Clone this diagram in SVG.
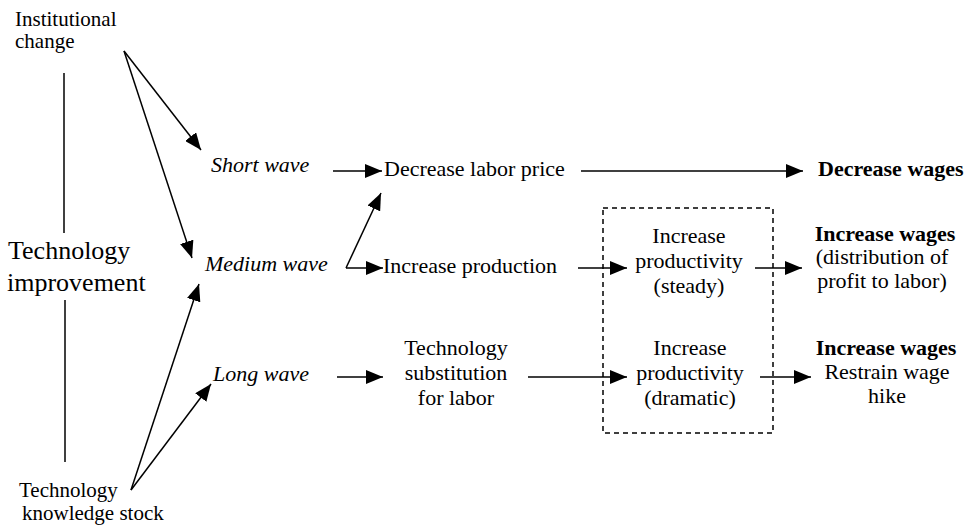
<svg xmlns="http://www.w3.org/2000/svg" width="966" height="528" viewBox="0 0 966 528">
  <style>
    text { font-family: "Liberation Serif", Tinos, "Nimbus Roman", Times, "DejaVu Serif", serif; font-size: 22px; fill: #000; }
    .it { font-style: italic; }
    .b { font-weight: bold; }
    .mid { text-anchor: middle; }
    .big { font-size: 26px; }
    .lab { font-size: 21px; }
    .edge { stroke: #000; stroke-width: 1.5; fill: none; }
    .box { stroke: #000; stroke-width: 1.5; fill: none; stroke-dasharray: 5 4; }
  </style>
  <defs>
    <marker id="arrow" markerUnits="userSpaceOnUse" markerWidth="18" markerHeight="14" refX="17" refY="7" orient="auto">
      <path d="M0,0 L17,7 L0,14 z" fill="#000"/>
    </marker>
  </defs>
  <rect width="966" height="528" fill="#fff"/>

  <!-- left-hand drivers -->
  <g id="institutional-change">
    <text class="lab" x="15" y="26">Institutional</text>
    <text class="lab" x="15" y="48">change</text>
  </g>
  <g id="technology-improvement">
    <text class="big" x="8" y="259">Technology</text>
    <text class="big" x="7" y="291">improvement</text>
  </g>
  <g id="knowledge-stock">
    <text class="lab" x="19" y="497">Technology</text>
    <text class="lab" x="22" y="520">knowledge stock</text>
  </g>

  <!-- wave lengths -->
  <g id="short-wave"><text class="it" x="211" y="172">Short wave</text></g>
  <g id="medium-wave"><text class="it" x="205" y="271">Medium wave</text></g>
  <g id="long-wave"><text class="it" x="213" y="381">Long wave</text></g>

  <!-- mechanisms -->
  <g id="decrease-labor-price"><text x="384" y="176">Decrease labor price</text></g>
  <g id="increase-production"><text x="383" y="273">Increase production</text></g>
  <g id="tech-substitution">
    <text class="mid" x="456" y="355">Technology</text>
    <text class="mid" x="456" y="380">substitution</text>
    <text class="mid" x="456" y="405">for labor</text>
  </g>

  <!-- productivity group -->
  <g id="productivity-group">
    <rect class="box" x="603" y="208" width="170" height="225"/>
  </g>
  <g id="productivity-steady">
    <text class="mid" x="689" y="243">Increase</text>
    <text class="mid" x="689" y="268">productivity</text>
    <text class="mid" x="689" y="293">(steady)</text>
  </g>
  <g id="productivity-dramatic">
    <text class="mid" x="690" y="355">Increase</text>
    <text class="mid" x="690" y="380">productivity</text>
    <text class="mid" x="690" y="405">(dramatic)</text>
  </g>

  <!-- wage outcomes -->
  <g id="decrease-wages"><text class="b" x="818" y="176">Decrease wages</text></g>
  <g id="increase-wages-steady">
    <text class="b mid" x="885" y="241">Increase wages</text>
    <text class="mid" x="882" y="264">(distribution of</text>
    <text class="mid" x="882" y="288">profit to labor)</text>
  </g>
  <g id="increase-wages-dramatic">
    <text class="b mid" x="886" y="355">Increase wages</text>
    <text class="mid" x="887" y="379">Restrain wage</text>
    <text class="mid" x="887" y="403">hike</text>
  </g>

  <!-- connectors -->
  <g id="connectors">
    <line class="edge" x1="64" y1="73" x2="64" y2="233"/>
    <line class="edge" x1="65" y1="300" x2="65" y2="462"/>
    <line class="edge" x1="124" y1="51" x2="201" y2="150" marker-end="url(#arrow)"/>
    <line class="edge" x1="124" y1="51" x2="192" y2="258" marker-end="url(#arrow)"/>
    <line class="edge" x1="131" y1="490" x2="199" y2="284" marker-end="url(#arrow)"/>
    <line class="edge" x1="131" y1="490" x2="211" y2="384" marker-end="url(#arrow)"/>
    <line class="edge" x1="333" y1="171" x2="382" y2="171" marker-end="url(#arrow)"/>
    <line class="edge" x1="346" y1="268" x2="381" y2="193" marker-end="url(#arrow)"/>
    <line class="edge" x1="346" y1="268" x2="383" y2="268" marker-end="url(#arrow)"/>
    <line class="edge" x1="337" y1="377" x2="383" y2="377" marker-end="url(#arrow)"/>
    <line class="edge" x1="581" y1="171" x2="803" y2="171" marker-end="url(#arrow)"/>
    <line class="edge" x1="578" y1="268" x2="627" y2="268" marker-end="url(#arrow)"/>
    <line class="edge" x1="528" y1="377" x2="627" y2="377" marker-end="url(#arrow)"/>
    <line class="edge" x1="755" y1="268" x2="802" y2="268" marker-end="url(#arrow)"/>
    <line class="edge" x1="760" y1="377" x2="811" y2="377" marker-end="url(#arrow)"/>
  </g>
</svg>
